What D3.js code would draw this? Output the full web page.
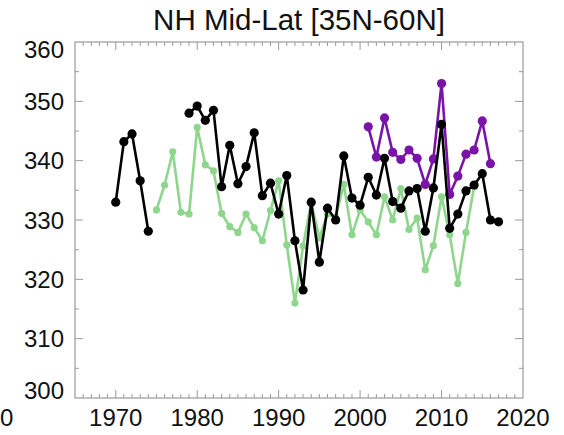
<!DOCTYPE html>
<html>
<head>
<meta charset="utf-8">
<script src="https://cdn.jsdelivr.net/npm/d3@7"></script>
<style>
  body { margin: 0; background: #fff; }
  text { font-family: "Liberation Sans", Arial, sans-serif; fill: #111; }
</style>
</head>
<body>
<script>
// chart size
const width = 564
const height = 435
const margin = { top: 42, left: 75, right: 41, bottom: 37 }

// data
const blackYears = d3.range(1970, 2018)
const blackValues = [333.0, 343.2, 344.5, 336.6, 328.1, null, null, null, null,
  348.0, 349.2, 346.8, 348.5, 335.6, 342.6, 336.1, 339.0, 344.7, 334.1, 336.2,
  331.0, 337.5, 326.5, 318.2, 333.0, 322.9, 332.0, 330.0, 340.8, 333.7,
  332.5, 337.2, 334.2, 340.4, 333.1, 332.0, 334.9, 335.3, 328.1, 335.4,
  346.1, 328.6, 331.0, 334.9, 335.9, 337.8, 330.0, 329.7]

const greenYears = d3.range(1975, 2015)
const greenValues = [331.7, 335.9, 341.5, 331.3, 331.0,
  345.6, 339.3, 338.3, 331.1, 328.9, 327.9, 331.0, 328.7, 326.5, 331.6,
  336.6, 325.8, 316.0, 325.6, 333.0, 327.0, 331.0, 330.5, 336.0, 327.5,
  331.7, 329.7, 327.5, 333.9, 330.0, 335.3, 328.4, 330.3, 321.6, 325.7,
  333.9, 327.5, 319.3, 327.9, 335.6]

const purpleYears = d3.range(2001, 2017)
const purpleValues = [345.7, 340.6, 347.2, 341.4, 340.2, 341.8, 340.4, 336.0,
  340.3, 353.0, 334.3, 337.4, 341.1, 341.8, 346.7, 339.5]

const xTicks = [1970, 1980, 1990, 2000, 2010, 2020]
const yTicks = [300, 310, 320, 330, 340, 350, 360]

const svg = d3.select("body").append("svg")
  .attr("width", width)
  .attr("height", height)

const x = d3.scaleLinear([1965, 2020], [margin.left, width - margin.right])
const y = d3.scaleLinear([300, 360], [height - margin.bottom, margin.top])

// frame
const axisColor = "#9a9a9a"
svg.append("rect")
  .attr("x", x(1965)).attr("y", y(360))
  .attr("width", x(2020) - x(1965)).attr("height", y(300) - y(360))
  .attr("fill", "none").attr("stroke", axisColor).attr("stroke-width", 1.2)

// inward ticks on all four sides
const ticks = svg.append("g").attr("stroke", axisColor).attr("stroke-width", 1)
d3.range(1966, 2020).forEach(function(yr) {
  const len = yr % 10 === 0 ? 8 : 4
  ticks.append("line").attr("x1", x(yr)).attr("x2", x(yr))
    .attr("y1", y(300)).attr("y2", y(300) - len)
  ticks.append("line").attr("x1", x(yr)).attr("x2", x(yr))
    .attr("y1", y(360)).attr("y2", y(360) + len)
})
d3.range(305, 360, 5).forEach(function(v) {
  const len = v % 10 === 0 ? 8 : 4
  ticks.append("line").attr("y1", y(v)).attr("y2", y(v))
    .attr("x1", x(1965)).attr("x2", x(1965) + len)
  ticks.append("line").attr("y1", y(v)).attr("y2", y(v))
    .attr("x1", x(2020)).attr("x2", x(2020) - len)
})

// tick labels (end labels kept inside the frame height)
svg.append("g").selectAll("text")
  .data(yTicks)
  .join("text")
  .attr("x", x(1965) - 11)
  .attr("y", d => Math.min(Math.max(y(d), y(360) + 7), y(300) - 8))
  .attr("dy", "0.36em")
  .attr("text-anchor", "end")
  .style("font-size", "24px")
  .text(d => d)

svg.append("g").selectAll("text")
  .data(xTicks)
  .join("text")
  .attr("x", d => x(d))
  .attr("y", 426)
  .attr("text-anchor", "middle")
  .style("font-size", "24px")
  .text(d => d)

// last digit of the neighbouring panel's label at the left edge
svg.append("text")
  .attr("x", 0)
  .attr("y", 426)
  .attr("text-anchor", "start")
  .style("font-size", "24px")
  .text("0")

// title
svg.append("text")
  .attr("x", (x(1965) + x(2020)) / 2)
  .attr("y", 30)
  .attr("text-anchor", "middle")
  .style("font-size", "29.5px")
  .text("NH Mid-Lat [35N-60N]")

// series
function drawSeries(years, values, color, r) {
  const pts = years.map((yr, i) => ({ year: yr, value: values[i] }))
  const line = d3.line()
    .defined(d => d.value != null)
    .x(d => x(d.year))
    .y(d => y(d.value))
  const g = svg.append("g")
  g.append("path")
    .datum(pts)
    .attr("fill", "none")
    .attr("stroke", color)
    .attr("stroke-width", 2.6)
    .attr("stroke-linejoin", "round")
    .attr("d", line)
  g.selectAll("circle")
    .data(pts.filter(d => d.value != null))
    .join("circle")
    .attr("cx", d => x(d.year))
    .attr("cy", d => y(d.value))
    .attr("r", r)
    .attr("fill", color)
}

drawSeries(greenYears, greenValues, "#8fd68d", 3.6)
drawSeries(purpleYears, purpleValues, "#7a14a8", 4.6)
drawSeries(blackYears, blackValues, "#000000", 4.6)
</script>
</body>
</html>
